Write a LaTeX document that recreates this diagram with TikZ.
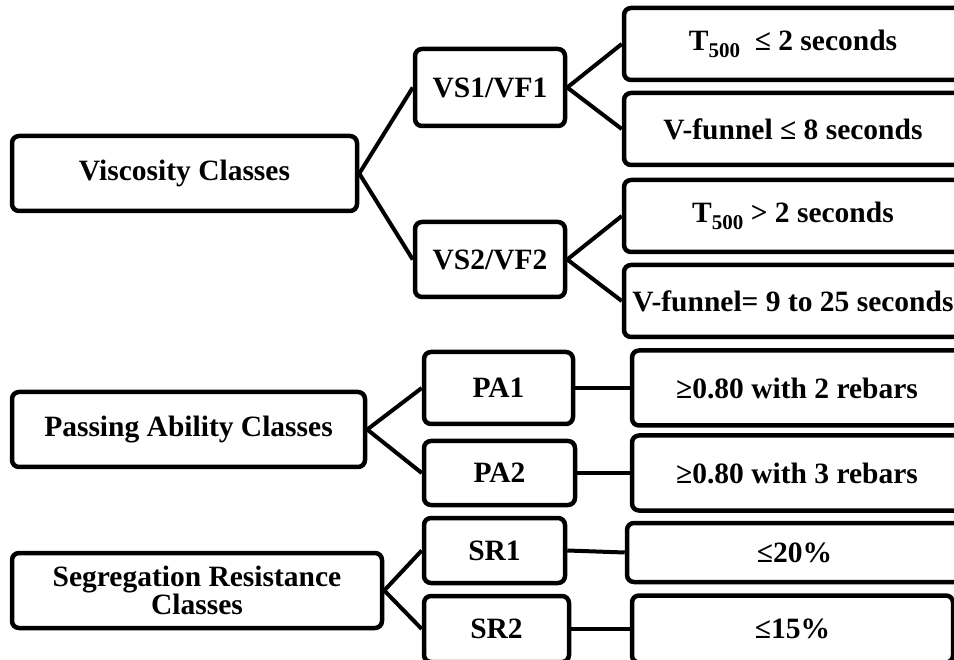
\documentclass[tikz,border=0pt]{standalone}
\usepackage{fontspec}
\setmainfont{Liberation Serif}
\newcommand{\subnum}[1]{\raisebox{-0.22em}{\fontsize{21}{21}\selectfont #1}}
\begin{document}
\begin{tikzpicture}[x=1pt,y=-1pt,
  box/.style={draw, line width=4.5pt, rounded corners=7pt, align=center, inner sep=0pt,
    font=\fontsize{29.5}{29}\selectfont\bfseries},
  link/.style={line width=4pt}]
\useasboundingbox (0,0) rectangle (954,660);
\clip (0,0) rectangle (954,660);
% Viscosity
\node[box, minimum width=345pt, minimum height=75pt] (vc) at (184.5,173.5) {Viscosity Classes};
\node[box, minimum width=150pt, minimum height=77pt] (vs1) at (490,87.5) {VS1/VF1};
\node[box, minimum width=150pt, minimum height=75pt] (vs2) at (490,259.5) {VS2/VF2};
\node[box, minimum width=338pt, minimum height=72pt] (r1) at (793,44) {T\subnum{500}\ \ ≤ 2 seconds};
\node[box, minimum width=338pt, minimum height=72pt] (r2) at (793,129) {V-funnel ≤ 8 seconds};
\node[box, minimum width=338pt, minimum height=72pt] (r3) at (793,216) {T\subnum{500} > 2 seconds};
\node[box, minimum width=338pt, minimum height=72pt] (r4) at (793,301) {V-funnel= 9 to 25 seconds};
% Passing ability
\node[box, minimum width=353pt, minimum height=75pt] (pac) at (188.5,429.5) {Passing Ability Classes};
\node[box, minimum width=149pt, minimum height=72pt] (pa1) at (498.5,388) {PA1};
\node[box, minimum width=151pt, minimum height=64pt] (pa2) at (499.5,473) {PA2};
\node[box, minimum width=330pt, minimum height=75pt] (rp1) at (797,388) {≥0.80 with 2 rebars};
\node[box, minimum width=330pt, minimum height=75pt] (rp2) at (797,473) {≥0.80 with 3 rebars};
% Segregation resistance
\node[box, minimum width=370pt, minimum height=75pt] (src) at (197,590.5) {Segregation Resistance\\[-1pt]Classes};
\node[box, minimum width=141pt, minimum height=65pt] (sr1) at (494.5,550.5) {SR1};
\node[box, minimum width=145pt, minimum height=66pt] (sr2) at (496.5,629) {SR2};
\node[box, minimum width=335pt, minimum height=59pt] (rs1) at (794.5,552.5) {≤20\%};
\node[box, minimum width=321pt, minimum height=67pt] (rs2) at (792.5,629) {≤15\%};
% connectors
\draw[link] (vc.east) -- (vs1.west);
\draw[link] (vc.east) -- (vs2.west);
\draw[link] (vs1.east) -- (r1.west);
\draw[link] (vs1.east) -- (r2.west);
\draw[link] (vs2.east) -- (r3.west);
\draw[link] (vs2.east) -- (r4.west);
\draw[link] (pac.east) -- (pa1.west);
\draw[link] (pac.east) -- (pa2.west);
\draw[link] (pa1.east) -- (rp1.west);
\draw[link] (pa2.east) -- (rp2.west);
\draw[link] (src.east) -- (sr1.west);
\draw[link] (src.east) -- (sr2.west);
\draw[link] (sr1.east) -- (rs1.west);
\draw[link] (sr2.east) -- (rs2.west);
\end{tikzpicture}
\end{document}
